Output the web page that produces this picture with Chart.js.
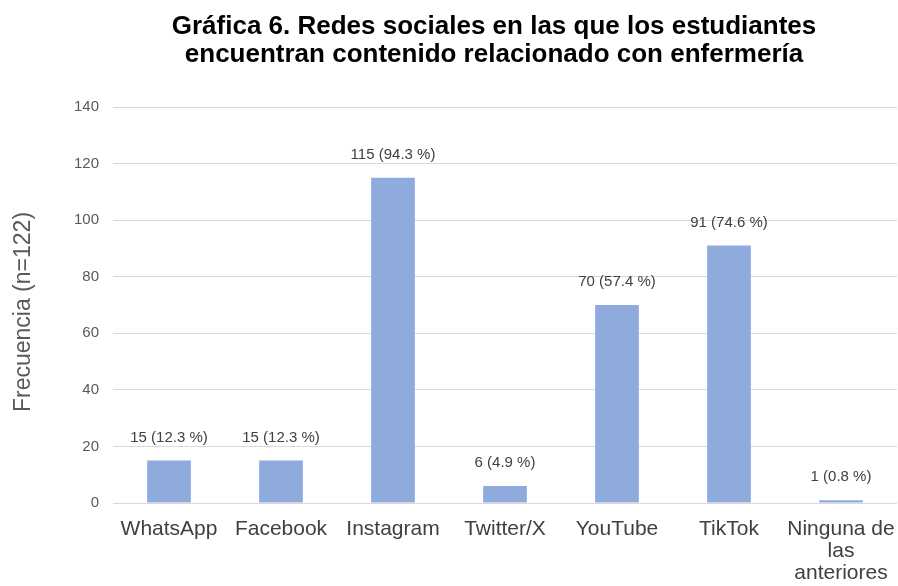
<!DOCTYPE html>
<html>
<head>
<meta charset="utf-8">
<script src="https://cdn.jsdelivr.net/npm/chart.js@4"></script>
<style>
  html,body{margin:0;padding:0;background:#fff;}
  #wrap{width:898px;height:586px;position:relative;}
</style>
</head>
<body>
<div id="wrap"><canvas id="c" width="898" height="586"></canvas></div>
<script>
const titleLines = ["Gráfica 6. Redes sociales en las que los estudiantes", "encuentran contenido relacionado con enfermería"];
const categories = ["WhatsApp", "Facebook", "Instagram", "Twitter/X", "YouTube", "TikTok", ["Ninguna de", "las", "anteriores"]];
const values = [15, 15, 115, 6, 70, 91, 1];
const percents = ["12.3", "12.3", "94.3", "4.9", "57.4", "74.6", "0.8"];
const yTitle = "Frecuencia (n=122)";
const yMin = 0, yMax = 140, yStep = 20;

const FONT = "'Liberation Sans', Arial, sans-serif";

const overlay = {
  id: 'overlay',
  afterDraw(chart) {
    const ctx = chart.ctx;
    ctx.save();
    // title
    ctx.fillStyle = '#000';
    ctx.font = "bold 26px " + FONT;
    ctx.textAlign = 'center';
    ctx.textBaseline = 'alphabetic';
    ctx.fillText(titleLines[0], 494, 34);
    ctx.fillText(titleLines[1], 494, 62);
    // y axis title
    ctx.save();
    ctx.translate(24, 312);
    ctx.rotate(-Math.PI / 2);
    ctx.font = "23px " + FONT;
    ctx.fillStyle = '#595959';
    ctx.textBaseline = 'middle';
    ctx.fillText(yTitle, 0, 0);
    ctx.restore();
    // data labels
    const meta = chart.getDatasetMeta(0);
    ctx.font = "15px " + FONT;
    ctx.fillStyle = '#404040';
    ctx.textBaseline = 'middle';
    meta.data.forEach((bar, i) => {
      ctx.fillText(values[i] + " (" + percents[i] + " %)", bar.x, bar.y - 23);
    });
    ctx.restore();
  }
};

new Chart(document.getElementById('c'), {
  type: 'bar',
  data: {
    labels: categories,
    datasets: [{
      data: values,
      backgroundColor: '#8faadc',
      borderWidth: 0,
      categoryPercentage: 1,
      barPercentage: 0.39
    }]
  },
  options: {
    responsive: false,
    animation: false,
    devicePixelRatio: 1,
    layout: { padding: { top: 107, right: 1, left: 0, bottom: 0 } },
    plugins: { legend: { display: false }, title: { display: false }, tooltip: { enabled: false } },
    scales: {
      x: {
        grid: { display: false, drawTicks: false },
        border: { display: false },
        ticks: { color: '#404040', font: { family: FONT, size: 21, lineHeight: 1.05 }, padding: 15, maxRotation: 0, autoSkip: false },
        afterFit(scale) { scale.height = 83; scale.paddingLeft = 0; scale.paddingRight = 0; }
      },
      y: {
        min: yMin, max: yMax,
        ticks: { stepSize: yStep, color: '#595959', font: { family: FONT, size: 15 }, padding: 14 },
        grid: { color: '#d9d9d9', drawTicks: false, lineWidth: 1 },
        border: { display: false },
        title: { display: false },
        afterFit(scale) { scale.width = 113; }
      }
    }
  },
  plugins: [overlay]
});
</script>
</body>
</html>
